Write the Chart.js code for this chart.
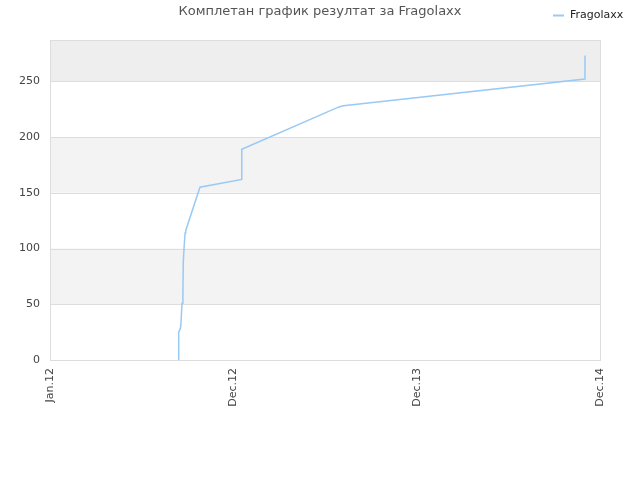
<!DOCTYPE html>
<html>
<head>
<meta charset="utf-8">
<script src="https://cdn.jsdelivr.net/npm/chart.js@4/dist/chart.umd.min.js"></script>
<style>
  html, body { margin: 0; padding: 0; background: #fff; }
  #wrap { width: 640px; height: 480px; }
</style>
</head>
<body>
<div id="wrap"><canvas id="chart" width="640" height="480"></canvas></div>
<script>
// x in axis units: 0 = Jan.12, 1 = Dec.12, 2 = Dec.13, 3 = Dec.14
const tickLabels = ['Jan.12', 'Dec.12', 'Dec.13', 'Dec.14'];
const xValues = [0.698, 0.702, 0.702, 0.708, 0.713, 0.715, 0.720, 0.725, 0.727, 0.731, 0.737, 0.740, 0.818, 1.046, 1.046, 1.576, 1.600, 2.918, 2.918];
const yValues = [0, 0, 25, 27, 30, 35, 51, 60, 88, 100, 114, 116, 155, 162, 189, 227, 228, 252, 273];
const seriesName = 'Fragolaxx';
const chartTitle = 'Комплетан график резултат за Fragolaxx';
const yTicks = [0, 50, 100, 150, 200, 250];

const FONT = '"DejaVu Sans", sans-serif';
const LINE = '#99c9f5';

const bandsPlugin = {
  id: 'bands',
  beforeDatasetsDraw(chart) {
    const { ctx, chartArea: a, scales: { y } } = chart;
    ctx.save();
    const edges = yTicks.concat([y.max]);
    for (let i = 0; i < edges.length - 1; i++) {
      if (i % 2 === 0) continue;
      const top = y.getPixelForValue(edges[i + 1]);
      const bot = y.getPixelForValue(edges[i]);
      ctx.fillStyle = (i === edges.length - 2) ? '#eeeeee' : '#f3f3f3';
      ctx.fillRect(a.left, top, a.right - a.left, bot - top);
    }
    ctx.strokeStyle = '#dddddd';
    ctx.lineWidth = 1;
    yTicks.forEach(v => {
      const py = Math.round(y.getPixelForValue(v)) + 0.5;
      ctx.beginPath(); ctx.moveTo(a.left, py); ctx.lineTo(a.right, py); ctx.stroke();
    });
    ctx.strokeRect(Math.round(a.left) + 0.5, Math.round(a.top) + 0.5, Math.round(a.right - a.left), Math.round(a.bottom - a.top));
    ctx.restore();
  },
  afterDraw(chart) {
    const ctx = chart.ctx;
    ctx.save();
    ctx.fillStyle = '#555555';
    ctx.font = '13px ' + FONT;
    ctx.textAlign = 'center';
    ctx.textBaseline = 'middle';
    ctx.fillText(chartTitle, 320, 12);
    // legend
    ctx.strokeStyle = LINE;
    ctx.lineWidth = 2;
    ctx.beginPath(); ctx.moveTo(553, 15.5); ctx.lineTo(564, 15.5); ctx.stroke();
    ctx.fillStyle = '#222222';
    ctx.font = '11px ' + FONT;
    ctx.textAlign = 'left';
    ctx.fillText(seriesName, 570, 15);
    ctx.restore();
  }
};

new Chart(document.getElementById('chart'), {
  type: 'line',
  data: {
    datasets: [{
      label: seriesName,
      data: xValues.map((x, i) => ({ x: x, y: yValues[i] })),
      borderColor: LINE,
      borderWidth: 1.5,
      pointRadius: 0,
      tension: 0,
      fill: false
    }]
  },
  options: {
    responsive: false,
    animation: false,
    layout: { padding: { top: 40, right: 40, left: 0, bottom: 0 } },
    plugins: { legend: { display: false }, title: { display: false }, tooltip: { enabled: false } },
    scales: {
      x: {
        type: 'linear', min: 0, max: 3,
        afterBuildTicks: s => { s.ticks = tickLabels.map((_, i) => ({ value: i })); },
        afterFit: s => { s.height = 120; },
        grid: { display: false, drawTicks: false },
        border: { display: false },
        ticks: {
          callback: v => tickLabels[v],
          maxRotation: 90, minRotation: 90, padding: 8,
          color: '#444444', font: { family: FONT, size: 11 }
        }
      },
      y: {
        min: 0, max: 287,
        afterBuildTicks: s => { s.ticks = yTicks.map(v => ({ value: v })); },
        afterFit: s => { s.width = 50; },
        grid: { display: false, drawTicks: false },
        border: { display: false },
        ticks: { padding: 10, color: '#444444', font: { family: FONT, size: 11 } }
      }
    }
  },
  plugins: [bandsPlugin]
});
</script>
</body>
</html>
